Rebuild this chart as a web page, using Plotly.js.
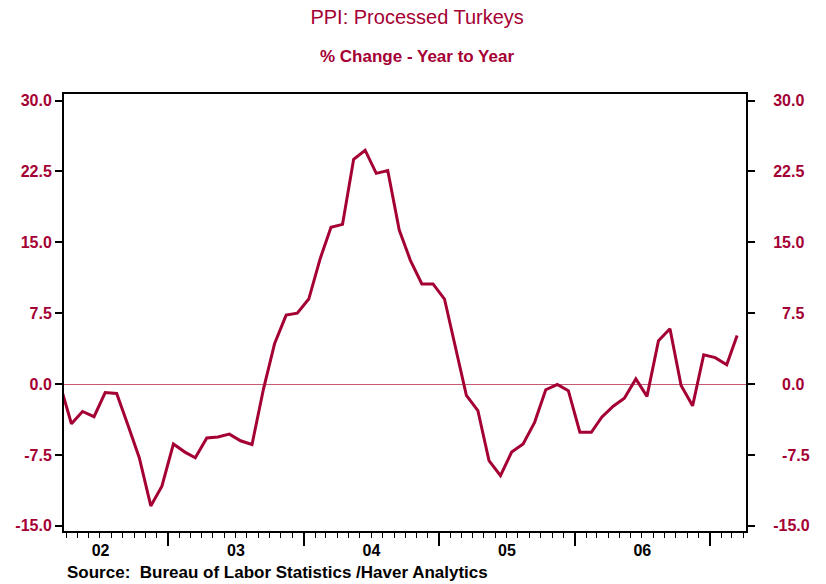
<!DOCTYPE html>
<html>
<head>
<meta charset="utf-8">
<script src="https://cdn.plot.ly/plotly-3.0.1.min.js"></script>
<style>
  body { margin: 0; background: #fff; }
  #chart { width: 826px; height: 584px; }
</style>
</head>
<body>
<div id="chart"></div>
<script>
// monthly series, first value is Mar 2002 (mid-month points)
const firstYear = 2002;
const firstMonth = 3;
const ppiChange = [0.0, -4.2, -2.9, -3.45, -0.9, -1.0, -4.4, -7.8, -12.9, -10.8,
  -6.35, -7.2, -7.8, -5.7, -5.6, -5.3, -6.0, -6.4, -0.5, 4.3, 7.3, 7.5,
  9.0, 13.3, 16.6, 16.9, 23.8, 24.75, 22.3, 22.6, 16.3, 13.1, 10.6, 10.6,
  9.0, 3.5, -1.2, -2.8, -8.1, -9.7, -7.2, -6.35, -4.05, -0.6, -0.05, -0.7,
  -5.1, -5.1, -3.5, -2.35, -1.5, 0.55, -1.3, 4.6, 5.85, -0.15, -2.3, 3.1, 2.8, 2.05, 5.15];
const yTicks = [-15, -7.5, 0, 7.5, 15, 22.5, 30];

const RED = '#a50034';
const FONT = 'Liberation Sans, Arial, sans-serif';
const FIG_SPACE = '\u2007';

let months = [];
for (let i = 0; i < ppiChange.length; i++) {
    let m = firstMonth - 1 + i;
    let y = firstYear + Math.floor(m / 12);
    let mm = (m % 12) + 1;
    months.push(`${y}-${String(mm).padStart(2, '0')}-15`);
}

// right side labels are right-aligned in the original, pad short ones
const yTickText = yTicks.map((v) => v.toFixed(1));
const yTickTextRight = yTickText.map((t) => {
    let digits = t.replace(/[^0-9]/g, '').length;
    return FIG_SPACE.repeat(Math.max(0, 3 - digits)) + t;
});

const yRange = [-15.55, 30.7];

const yAxisBase = {
    range: yRange,
    tickvals: yTicks,
    ticks: 'outside',
    ticklen: 7,
    tickwidth: 2,
    tickcolor: '#000',
    showline: true,
    linecolor: '#000',
    linewidth: 2,
    showgrid: false,
    tickfont: {family: FONT, size: 16, color: RED, weight: 'bold'},
    fixedrange: true
};

const traces = [
    {x: months, y: ppiChange, type: 'scatter', mode: 'lines',
     line: {color: RED, width: 3}, hoverinfo: 'x+y'},
    {x: months, y: ppiChange, type: 'scatter', mode: 'lines', yaxis: 'y2',
     line: {color: 'rgba(0,0,0,0)', width: 0}, hoverinfo: 'skip'}
];

const layout = {
    width: 826,
    height: 584,
    margin: {l: 64, r: 80, t: 94, b: 53},
    paper_bgcolor: '#fff',
    plot_bgcolor: '#fff',
    showlegend: false,
    title: {
        text: 'PPI: Processed Turkeys',
        font: {family: FONT, size: 20, color: RED},
        x: 0.505, xanchor: 'center',
        y: 1 - 17 / 584, yanchor: 'middle'
    },
    xaxis: {
        type: 'date',
        range: ['2002-03-26', '2007-04-08'],
        showline: true,
        linecolor: '#000',
        linewidth: 2,
        mirror: true,
        ticks: 'outside',
        ticklen: 13,
        tickwidth: 2,
        tickcolor: '#000',
        dtick: 'M12',
        tick0: '2003-01-01',
        tickformat: '%y',
        ticklabelmode: 'period',
        ticklabelstandoff: -9,
        tickfont: {family: FONT, size: 16, color: '#000', weight: 'bold'},
        showgrid: false,
        zeroline: false,
        minor: {dtick: 'M1', ticks: 'outside', ticklen: 5, tickwidth: 1, tickcolor: '#000', showgrid: false},
        fixedrange: true
    },
    yaxis: Object.assign({}, yAxisBase, {
        ticktext: yTickText,
        mirror: true,
        zeroline: true,
        zerolinecolor: '#c45a74',
        zerolinewidth: 1
    }),
    yaxis2: Object.assign({}, yAxisBase, {
        ticktext: yTickTextRight,
        overlaying: 'y',
        side: 'right',
        ticklabelstandoff: 15,
        zeroline: false
    }),
    annotations: [
        {text: '% Change - Year to Year', xref: 'paper', yref: 'paper',
         x: 0.518, y: (531 - 57) / 437, xanchor: 'center', yanchor: 'middle',
         showarrow: false, font: {family: FONT, size: 17, color: RED, weight: 'bold'}},
        {text: 'Source:  Bureau of Labor Statistics /Haver Analytics', xref: 'paper', yref: 'paper',
         x: 0.002, y: (531 - 572) / 437, xanchor: 'left', yanchor: 'middle',
         showarrow: false, font: {family: FONT, size: 17, color: '#000', weight: 'bold'}}
    ]
};

Plotly.newPlot('chart', traces, layout, {displayModeBar: false, staticPlot: true});
</script>
</body>
</html>
